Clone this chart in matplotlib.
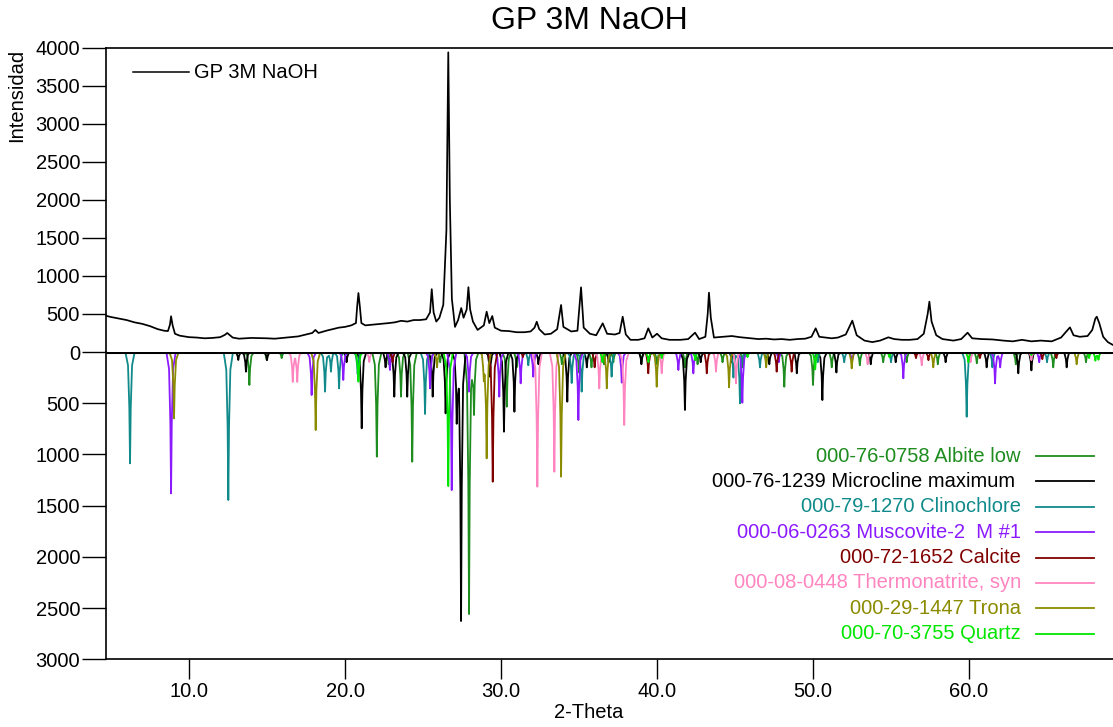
import numpy as np
import matplotlib
matplotlib.use("Agg")
import matplotlib.pyplot as plt
from matplotlib.lines import Line2D

plt.rcParams['font.family'] = ['Liberation Sans', 'DejaVu Sans']

# ---------------- data ----------------
title = "GP 3M NaOH"
sample_name = "GP 3M NaOH"
x_label = "2-Theta"
y_label = "Intensidad"

sample_2theta = [4.66, 5.0, 5.5, 6.0, 6.5, 7.0, 7.5, 8.0, 8.4, 8.65, 8.78, 8.85, 8.95, 9.1, 9.4,
                 10.0, 10.5, 11.0, 11.5, 12.0, 12.3, 12.45, 12.6, 12.8, 13.2, 14.0, 15.0, 15.5,
                 16.0, 16.5, 17.0, 17.5, 17.9, 18.1, 18.3, 18.8, 19.2, 19.6, 20.0, 20.4, 20.7,
                 20.78, 20.86, 20.95, 21.05, 21.3, 21.8, 22.3, 22.8, 23.2, 23.6, 24.0, 24.4, 24.8,
                 25.2, 25.45, 25.56, 25.68, 25.85, 26.05, 26.3, 26.5, 26.62, 26.72, 26.85, 27.05,
                 27.25, 27.45, 27.6, 27.8, 27.91, 28.02, 28.2, 28.5, 28.9, 29.08, 29.25, 29.44,
                 29.6, 30.0, 30.5, 31.0, 31.5, 31.9, 32.15, 32.29, 32.45, 32.8, 33.2, 33.6, 33.85,
                 34.0, 34.5, 34.9, 35.13, 35.3, 35.7, 36.1, 36.52, 36.8, 37.3, 37.6, 37.8, 38.0,
                 38.3, 38.8, 39.2, 39.44, 39.7, 40.0, 40.3, 40.8, 41.5, 42.0, 42.44, 42.7, 43.1,
                 43.25, 43.33, 43.45, 43.65, 44.2, 44.8, 45.3, 46.0, 46.5, 47.0, 47.5, 48.0, 48.5,
                 49.0, 49.5, 49.9, 50.17, 50.4, 50.8, 51.2, 51.6, 52.1, 52.52, 52.8, 53.3, 53.8,
                 54.3, 54.83, 55.2, 55.7, 56.2, 56.7, 57.1, 57.35, 57.46, 57.6, 57.9, 58.3, 59.0,
                 59.5, 59.91, 60.2, 60.8, 61.5, 62.2, 62.8, 63.4, 64.0, 64.6, 65.3, 65.9, 66.2,
                 66.47, 66.7, 67.1, 67.6, 67.9, 68.1, 68.19, 68.35, 68.6, 68.9, 69.23]
sample_counts = [477, 460, 440, 420, 390, 370, 340, 300, 280, 275, 360, 470, 350, 240, 215,
                 195, 190, 180, 185, 195, 225, 250, 225, 190, 175, 185, 180, 175,
                 185, 195, 205, 230, 250, 290, 250, 280, 300, 320, 330, 350, 380,
                 600, 775, 600, 380, 350, 360, 370, 380, 390, 410, 400, 420, 420,
                 430, 520, 826, 520, 400, 450, 620, 1600, 3939, 2000, 700, 330,
                 420, 578, 450, 560, 852, 560, 400, 290, 350, 530, 380, 473,
                 320, 280, 275, 260, 260, 270, 320, 398, 300, 230, 240, 300, 618,
                 330, 270, 280, 850, 320, 240, 220, 377, 240, 230, 250, 464, 230,
                 160, 160, 180, 311, 190, 240, 180, 160, 160, 170, 254, 170, 200,
                 500, 780, 450, 190, 200, 210, 195, 180, 170, 175, 165, 170, 160,
                 170, 175, 200, 311, 200, 190, 180, 190, 230, 412, 220, 150, 130,
                 150, 193, 170, 160, 160, 170, 240, 500, 662, 400, 220, 170, 150,
                 170, 254, 180, 170, 165, 150, 140, 160, 140, 150, 140, 190, 260,
                 324, 220, 200, 210, 290, 440, 464, 380, 200, 130, 92]

phase_names = ["000-76-0758 Albite low", "000-76-1239 Microcline maximum ",
               "000-79-1270 Clinochlore", "000-06-0263 Muscovite-2  M #1",
               "000-72-1652 Calcite", "000-08-0448 Thermonatrite, syn",
               "000-29-1447 Trona", "000-70-3755 Quartz"]
phase_colors = ["#1E8C1E", "#000000", "#108A8A", "#8B1AFF",
                "#800000", "#FF85C0", "#8B8B00", "#00E600"]

albite_pos = [13.87, 14.98, 15.94, 22.04, 22.8, 23.59, 24.31, 25.5, 26.1, 27.95, 28.27, 30.37,
              31.0, 33.9, 35.0, 35.8, 36.6, 37.2, 39.0, 40.0, 41.8, 42.6, 44.2, 45.5, 47.0,
              48.16, 50.0, 51.2, 53.0, 54.5, 56.0, 58.0, 60.5, 63.0, 65.4, 67.5]
albite_int = [322, 78, 60, 1022, 120, 436, 1071, 150, 100, 2558, 615, 534,
              150, 120, 200, 150, 120, 100, 100, 120, 150, 120, 100, 150, 100,
              339, 322, 150, 130, 100, 100, 120, 110, 120, 150, 100]

microcline_pos = [13.16, 13.65, 15.0, 20.1, 21.07, 22.6, 23.16, 23.99, 25.62, 26.45, 27.16, 27.44,
                  29.29, 30.19, 30.86, 32.4, 34.25, 35.5, 36.9, 39.0, 41.79, 42.8, 44.8, 47.2,
                  48.96, 50.6, 51.5, 53.7, 55.3, 58.5, 61.13, 63.16, 64.0, 66.26]
microcline_int = [78, 192, 80, 100, 745, 150, 436, 436, 436, 599, 664, 2617,
                  241, 778, 583, 120, 485, 150, 100, 120, 566, 100, 100, 120,
                  208, 469, 200, 120, 100, 100, 150, 208, 180, 150]

clinochlore_pos = [6.22, 12.52, 18.72, 19.10, 19.62, 20.81, 25.13, 31.75, 34.53, 35.17, 37.09,
                   44.9, 45.32, 46.6, 50.3, 52.0, 55.0, 59.85, 61.5, 65.0]
clinochlore_int = [1087, 1445, 387, 192, 355, 215, 605, 130, 303, 387, 241,
                   250, 501, 150, 100, 100, 100, 632, 150, 100]

muscovite_pos = [8.85, 17.86, 19.89, 22.88, 25.45, 26.84, 27.95, 29.89, 31.26, 32.07, 34.96,
                 37.74, 41.37, 42.33, 45.47, 47.8, 52.5, 55.79, 61.67, 62.0, 64.5]
muscovite_int = [1380, 420, 273, 176, 355, 1348, 387, 436, 306, 241, 664,
                 299, 176, 208, 495, 100, 100, 257, 306, 150, 100]

calcite_pos = [23.05, 29.47, 31.4, 36.0, 39.44, 43.19, 47.67, 48.63, 56.6, 57.4, 60.7, 64.7, 65.6]
calcite_int = [100, 1266, 50, 150, 208, 208, 192, 192, 60, 80, 60, 70, 60]

thermonatrite_pos = [16.65, 16.94, 21.56, 32.33, 33.42, 36.30, 37.90, 40.30, 43.78, 45.06,
                     53.5, 56.97, 60.1, 64.0]
thermonatrite_int = [290, 290, 98, 1315, 1169, 355, 713, 208, 192, 306, 120, 130, 100, 80]

trona_pos = [9.04, 18.12, 25.9, 28.9, 29.08, 33.85, 36.78, 39.98, 44.62, 47.0, 52.48, 57.71, 66.9]
trona_int = [648, 762, 150, 200, 1022, 1217, 355, 339, 345, 150, 160, 150, 120]

quartz_pos = [20.86, 26.62, 36.5, 39.45, 40.3, 42.45, 45.8, 50.14, 54.9, 59.96, 64.0, 67.7, 68.1, 68.3]
quartz_int = [290, 1309, 100, 100, 60, 80, 50, 170, 50, 100, 30, 60, 80, 70]

phase_positions = [albite_pos, microcline_pos, clinochlore_pos, muscovite_pos,
                   calcite_pos, thermonatrite_pos, trona_pos, quartz_pos]
phase_intensities = [albite_int, microcline_int, clinochlore_int, muscovite_int,
                     calcite_int, thermonatrite_int, trona_int, quartz_int]

x_ticks = [10, 20, 30, 40, 50, 60]
top_yticks = [0, 500, 1000, 1500, 2000, 2500, 3000, 3500, 4000]
bottom_yticks = [500, 1000, 1500, 2000, 2500, 3000]

# ---------------- layout ----------------
W, H = 1113, 727
fig = plt.figure(figsize=(W / 100, H / 100), dpi=100)
left = 105.7 / W
right = 1.0
y_top = 1 - 47.7 / H
y_zero = 1 - 352.0 / H
y_bot = 1 - 659.3 / H

ax_top = fig.add_axes([left, y_zero, right - left, y_top - y_zero])
ax_bot = fig.add_axes([left, y_bot, right - left, y_zero - y_bot], sharex=ax_top)

xmin, xmax = 4.66, 69.23
FS = 14.5

# sample pattern
ax_top.plot(sample_2theta, sample_counts, color="black", lw=1.25)
ax_top.set_xlim(xmin, xmax)
ax_top.set_ylim(0, 4000)
ax_top.set_yticks(top_yticks)
ax_top.tick_params(axis="y", direction="out", length=17.5, width=1.0, labelsize=FS, pad=1)
ax_top.tick_params(axis="x", bottom=False, labelbottom=False)
for s in ["right", "bottom"]:
    ax_top.spines[s].set_visible(False)
ax_top.spines["top"].set_linewidth(1.2)
ax_top.spines["left"].set_linewidth(1.2)

# reference patterns (peak profiles drawn downward)
offs = np.array([-0.3, -0.13, -0.045, 0.0, 0.045, 0.13, 0.3])
fracs = np.array([0.0, 0.12, 0.5, 1.0, 0.5, 0.12, 0.0])
for pos, inten, col in zip(phase_positions, phase_intensities, phase_colors):
    xs = np.unique(np.concatenate([[xmin, xmax]] + [p + offs for p in pos]))
    ys = np.zeros_like(xs)
    for p, a in zip(pos, inten):
        ys += np.interp(xs, p + offs, a * fracs, left=0, right=0)
    ax_bot.plot(xs, ys, color=col, lw=1.3)

ax_bot.axhline(0, color="black", lw=2.2, zorder=5)
ax_bot.set_ylim(3000, 0)
ax_bot.set_yticks(bottom_yticks)
ax_bot.set_xticks(x_ticks)
ax_bot.set_xticklabels([f"{v:.1f}" for v in x_ticks])
ax_bot.tick_params(axis="y", direction="out", length=17.5, width=1.0, labelsize=FS, pad=1)
ax_bot.tick_params(axis="x", direction="out", length=14.5, width=1.0, labelsize=FS, pad=2)
for s in ["right", "top"]:
    ax_bot.spines[s].set_visible(False)
ax_bot.spines["bottom"].set_linewidth(1.2)
ax_bot.spines["left"].set_linewidth(1.2)
ax_bot.set_xlim(xmin, xmax)

# texts
fig.text(589 / W, 1 - 21 / H, title, ha="center", va="center", fontsize=23)
fig.text(589 / W, 1 - 712 / H, x_label, ha="center", va="center", fontsize=FS)
fig.text(17 / W, 1 - 95 / H, y_label, ha="center", va="center", fontsize=FS, rotation=90)

# sample legend
ly = 1 - 72 / H
fig.add_artist(Line2D([133 / W, 189 / W], [ly, ly], color="black", lw=1.1))
fig.text(194 / W, ly, sample_name, ha="left", va="center", fontsize=FS)

# reference legend
for i, (name, col) in enumerate(zip(phase_names, phase_colors)):
    yy = 1 - (456 + i * 25.4) / H
    fig.text(1021 / W, yy, name, ha="right", va="center", fontsize=FS, color=col)
    fig.add_artist(Line2D([1036 / W, 1094 / W], [yy, yy], color=col, lw=1.3))

fig.savefig("out.png", dpi=100)
